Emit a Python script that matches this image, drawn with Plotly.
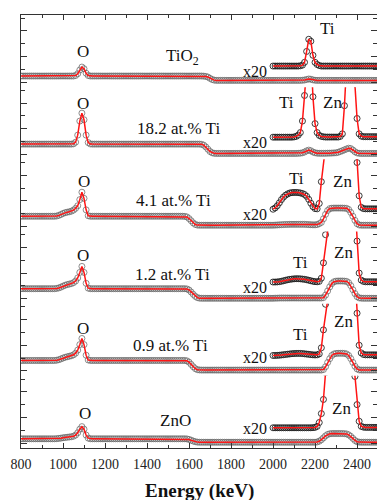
import plotly.graph_objects as go
from plotly.subplots import make_subplots

# ---------------- data ----------------
energy_main = list(range(800, 2501, 10))     # keV, 171 channels
energy_x20 = list(range(2000, 2501, 10))     # keV, 51 channels (x20 magnified part)

sample_names = ["TiO<sub>2</sub>", "18.2 at.% Ti", "4.1 at.% Ti", "1.2 at.% Ti", "0.9 at.% Ti", "ZnO"]

tio2_main = [
    0.48, 0.48, 0.48, 0.48, 0.48, 0.48, 0.48, 0.48, 0.48, 0.48, 0.48, 0.48, 0.48, 0.48, 0.48, 0.48,
    0.48, 0.48, 0.48, 0.48, 0.48, 0.48, 0.48, 0.48, 0.48, 0.48, 0.52, 0.66, 0.95, 1.18, 1.05, 0.70, 0.52, 0.48,
    0.48, 0.48, 0.48, 0.48, 0.48, 0.48, 0.48, 0.48, 0.48, 0.48, 0.48,
    0.48, 0.48, 0.48, 0.48, 0.48, 0.48, 0.48, 0.48, 0.48, 0.48, 0.48,
    0.48, 0.48, 0.48, 0.48, 0.48, 0.48, 0.48, 0.48, 0.48, 0.48, 0.48,
    0.48, 0.48, 0.48, 0.48, 0.48, 0.48, 0.48, 0.48, 0.48, 0.48, 0.48,
    0.48, 0.48, 0.48, 0.48, 0.48, 0.48, 0.48, 0.48, 0.48, 0.47, 0.45, 0.40, 0.30, 0.21, 0.16, 0.14,
    0.14, 0.14, 0.14, 0.14, 0.14, 0.14, 0.14, 0.14, 0.14, 0.14, 0.14, 0.14,
    0.14, 0.14, 0.14, 0.14, 0.14, 0.14, 0.14, 0.14, 0.14, 0.14, 0.14, 0.14,
    0.14, 0.14, 0.14, 0.14, 0.14, 0.14, 0.14, 0.14, 0.14, 0.14, 0.14, 0.14,
    0.14, 0.14, 0.14, 0.14, 0.15, 0.17, 0.21, 0.25, 0.23, 0.18, 0.15, 0.14,
    0.14, 0.14, 0.14, 0.14, 0.14, 0.14, 0.14, 0.14, 0.14, 0.14, 0.14, 0.14, 0.14, 0.14, 0.14,
    0.14, 0.14, 0.14, 0.14, 0.14, 0.14, 0.14, 0.14, 0.14, 0.14, 0.14, 0.14, 0.14, 0.14,
]

ti182_main = [
    0.80, 0.80, 0.80, 0.80, 0.80, 0.80, 0.80, 0.80, 0.80, 0.80, 0.80, 0.80, 0.80, 0.80, 0.80, 0.80,
    0.80, 0.80, 0.80, 0.80, 0.80, 0.80, 0.80, 0.80, 0.80, 0.82, 0.95, 1.50, 2.60, 3.22, 2.70, 1.50, 0.92, 0.81,
    0.80, 0.80, 0.80, 0.80, 0.80, 0.80, 0.80, 0.80, 0.80, 0.80, 0.80,
    0.80, 0.80, 0.80, 0.80, 0.80, 0.80, 0.80, 0.80, 0.80, 0.80, 0.80,
    0.80, 0.80, 0.80, 0.80, 0.80, 0.80, 0.80, 0.80, 0.80, 0.80, 0.80,
    0.80, 0.80, 0.80, 0.80, 0.80, 0.80, 0.80, 0.80, 0.80, 0.80, 0.80,
    0.80, 0.80, 0.80, 0.80, 0.80, 0.80, 0.80, 0.80, 0.78, 0.72, 0.58, 0.40, 0.22, 0.12, 0.08, 0.07,
    0.07, 0.07, 0.07, 0.07, 0.07, 0.07, 0.07, 0.07, 0.07, 0.07, 0.07, 0.07,
    0.07, 0.07, 0.07, 0.07, 0.07, 0.07, 0.07, 0.07, 0.07, 0.07, 0.07, 0.07,
    0.07, 0.07, 0.07, 0.07, 0.07, 0.07, 0.07, 0.07, 0.07, 0.07, 0.07, 0.07,
    0.07, 0.07, 0.08, 0.09, 0.12, 0.18, 0.27, 0.33, 0.28, 0.18, 0.12, 0.09,
    0.08, 0.08, 0.08, 0.08, 0.09, 0.09, 0.10, 0.11, 0.12, 0.16, 0.22, 0.28,
    0.35, 0.42, 0.48, 0.45, 0.34, 0.20, 0.11, 0.08, 0.07,
    0.07, 0.07, 0.07, 0.07, 0.07, 0.07, 0.07, 0.07,
]

ti41_main = [
    0.80, 0.80, 0.80, 0.80, 0.80, 0.80, 0.80, 0.80, 0.80, 0.80, 0.80, 0.80, 0.80, 0.80, 0.80, 0.80,
    0.80, 0.82, 0.87, 0.94, 1.02, 1.08, 1.12, 1.15, 1.20, 1.28, 1.42, 1.62, 2.10, 2.68, 2.20, 1.30, 0.84, 0.80,
    0.80, 0.80, 0.80, 0.80, 0.80, 0.80, 0.80, 0.80, 0.80, 0.80, 0.80,
    0.80, 0.80, 0.80, 0.80, 0.80, 0.80, 0.80, 0.80, 0.80, 0.80, 0.80,
    0.80, 0.80, 0.80, 0.80, 0.80, 0.80, 0.80, 0.80, 0.80, 0.80, 0.80,
    0.80, 0.80, 0.80, 0.80, 0.80, 0.80, 0.80, 0.80, 0.80, 0.80, 0.80,
    0.79, 0.75, 0.62, 0.45, 0.28, 0.16, 0.11, 0.10, 0.10, 0.10, 0.10, 0.10, 0.10, 0.10, 0.10, 0.10,
    0.10, 0.10, 0.10, 0.10, 0.10, 0.10, 0.10, 0.10, 0.10, 0.10, 0.10, 0.10,
    0.10, 0.10, 0.10, 0.10, 0.10, 0.10, 0.10, 0.10, 0.10, 0.10, 0.10, 0.10,
    0.10, 0.10, 0.10, 0.11, 0.12, 0.13, 0.14, 0.15, 0.16, 0.16, 0.17, 0.17,
    0.17, 0.17, 0.17, 0.17, 0.17, 0.17, 0.16, 0.15, 0.14, 0.13, 0.13, 0.15,
    0.22, 0.32, 0.60, 0.95, 1.25, 1.40, 1.43, 1.44, 1.44, 1.44, 1.44, 1.44,
    1.43, 1.42, 1.33, 1.10, 0.80, 0.48, 0.22, 0.12, 0.10,
    0.10, 0.10, 0.10, 0.10, 0.10, 0.10, 0.10, 0.10,
]

ti12_main = [
    0.78, 0.78, 0.78, 0.78, 0.78, 0.78, 0.78, 0.78, 0.78, 0.78, 0.78, 0.78, 0.78, 0.78, 0.78, 0.78,
    0.78, 0.80, 0.84, 0.90, 0.98, 1.05, 1.10, 1.14, 1.18, 1.25, 1.38, 1.62, 2.05, 2.52, 2.05, 1.20, 0.82, 0.78,
    0.78, 0.78, 0.78, 0.78, 0.78, 0.78, 0.78, 0.78, 0.78, 0.78, 0.78,
    0.78, 0.78, 0.78, 0.78, 0.78, 0.78, 0.78, 0.78, 0.78, 0.78, 0.78,
    0.78, 0.78, 0.78, 0.78, 0.78, 0.78, 0.78, 0.78, 0.78, 0.78, 0.78,
    0.78, 0.78, 0.78, 0.78, 0.78, 0.78, 0.78, 0.78, 0.78, 0.78, 0.78,
    0.78, 0.76, 0.68, 0.52, 0.34, 0.18, 0.08, 0.04, 0.03, 0.03, 0.03, 0.03, 0.03, 0.03, 0.03, 0.03,
    0.03, 0.03, 0.03, 0.03, 0.03, 0.03, 0.03, 0.03, 0.03, 0.03, 0.03, 0.03,
    0.03, 0.03, 0.03, 0.03, 0.03, 0.03, 0.03, 0.03, 0.03, 0.03, 0.03, 0.03,
    0.03, 0.03, 0.03, 0.04, 0.04, 0.05, 0.05, 0.05, 0.05, 0.05, 0.05, 0.05,
    0.05, 0.05, 0.05, 0.05, 0.05, 0.05, 0.05, 0.05, 0.05, 0.05, 0.05, 0.05, 0.05, 0.05,
    0.08, 0.28, 0.60, 0.92, 1.18, 1.32, 1.37, 1.38, 1.38, 1.38, 1.37, 1.35,
    1.25, 1.02, 0.70, 0.40, 0.16, 0.06, 0.04,
    0.03, 0.03, 0.03, 0.03, 0.03, 0.03, 0.03, 0.03,
]

ti09_main = [
    0.81, 0.81, 0.81, 0.81, 0.81, 0.81, 0.81, 0.81, 0.81, 0.81, 0.81, 0.81, 0.81, 0.81, 0.81, 0.81,
    0.81, 0.83, 0.87, 0.93, 1.00, 1.06, 1.10, 1.14, 1.18, 1.25, 1.38, 1.62, 2.05, 2.53, 2.05, 1.22, 0.85, 0.81,
    0.81, 0.81, 0.81, 0.81, 0.81, 0.81, 0.81, 0.81, 0.81, 0.81, 0.81,
    0.81, 0.81, 0.81, 0.81, 0.81, 0.81, 0.81, 0.81, 0.81, 0.81, 0.81,
    0.81, 0.81, 0.81, 0.81, 0.81, 0.81, 0.81, 0.81, 0.81, 0.81, 0.81,
    0.81, 0.81, 0.81, 0.81, 0.81, 0.81, 0.81, 0.81, 0.81, 0.81, 0.81,
    0.81, 0.78, 0.68, 0.50, 0.32, 0.17, 0.09, 0.07, 0.06, 0.06, 0.06, 0.06, 0.06, 0.06, 0.06, 0.06,
    0.06, 0.06, 0.06, 0.06, 0.06, 0.06, 0.06, 0.06, 0.06, 0.06, 0.06, 0.06,
    0.06, 0.06, 0.06, 0.06, 0.06, 0.06, 0.06, 0.06, 0.06, 0.06, 0.06, 0.06,
    0.06, 0.06, 0.06, 0.06, 0.06, 0.06, 0.06, 0.06, 0.06, 0.06, 0.06, 0.06,
    0.06, 0.06, 0.06, 0.06, 0.06, 0.06, 0.06, 0.06, 0.06, 0.06, 0.06, 0.06, 0.06, 0.06,
    0.10, 0.32, 0.65, 0.95, 1.20, 1.32, 1.36, 1.37, 1.37, 1.37, 1.36, 1.32,
    1.20, 0.96, 0.66, 0.36, 0.15, 0.07, 0.06,
    0.06, 0.06, 0.06, 0.06, 0.06, 0.06, 0.06, 0.06,
]

zno_main = [
    0.33, 0.33, 0.33, 0.33, 0.33, 0.33, 0.33, 0.33, 0.33, 0.33, 0.33, 0.33, 0.33, 0.33, 0.33, 0.33,
    0.33, 0.34, 0.36, 0.38, 0.41, 0.43, 0.45, 0.47, 0.49, 0.53, 0.62, 0.80, 1.08, 1.28, 1.08, 0.62, 0.38, 0.33,
    0.33, 0.33, 0.33, 0.33, 0.33, 0.33, 0.33, 0.33, 0.33, 0.33, 0.33,
    0.33, 0.33, 0.33, 0.33, 0.33, 0.33, 0.33, 0.33, 0.33, 0.33, 0.33,
    0.33, 0.33, 0.33, 0.33, 0.33, 0.33, 0.33, 0.33, 0.33, 0.33, 0.33,
    0.33, 0.33, 0.33, 0.33, 0.33, 0.33, 0.33, 0.33, 0.33, 0.33, 0.33,
    0.33, 0.32, 0.28, 0.22, 0.15, 0.10, 0.07, 0.06, 0.06, 0.06, 0.06, 0.06, 0.06, 0.06, 0.06, 0.06,
    0.06, 0.06, 0.06, 0.06, 0.06, 0.06, 0.06, 0.06, 0.06, 0.06, 0.06, 0.06,
    0.06, 0.06, 0.06, 0.06, 0.06, 0.06, 0.06, 0.06, 0.06, 0.06, 0.06, 0.06,
    0.06, 0.06, 0.06, 0.06, 0.06, 0.06, 0.06, 0.06, 0.06, 0.06, 0.06, 0.06,
    0.06, 0.06, 0.06, 0.06, 0.06, 0.06, 0.06, 0.06, 0.06, 0.06, 0.06,
    0.08, 0.14, 0.25, 0.40, 0.56, 0.67, 0.72, 0.74, 0.74, 0.74, 0.74, 0.74,
    0.74, 0.73, 0.71, 0.64, 0.52, 0.36, 0.20, 0.10, 0.07, 0.06,
    0.06, 0.06, 0.06, 0.06, 0.06, 0.06, 0.06, 0.06,
]

# x20 magnified parts (already multiplied and offset as drawn in the figure)
tio2_x20 = [
    1.26, 1.26, 1.26, 1.26, 1.26, 1.26, 1.26, 1.26, 1.26, 1.26, 1.26, 1.26, 1.26,
    1.28, 1.33, 1.55, 2.40, 3.35, 3.20, 2.10, 1.55, 1.38, 1.30,
    1.26, 1.26, 1.26, 1.26, 1.26, 1.26, 1.26, 1.26, 1.26, 1.26, 1.26, 1.26, 1.26, 1.26,
    1.26, 1.26, 1.26, 1.26, 1.26, 1.26, 1.26, 1.26, 1.26, 1.26, 1.26, 1.26, 1.26, 1.26,
]
ti182_x20 = [
    1.34, 1.34, 1.34, 1.34, 1.34, 1.34, 1.34, 1.34, 1.34, 1.34,
    1.36, 1.40, 1.50, 1.70, 2.60, 4.60, 7.00, 9.00, 8.00, 4.50, 2.40, 1.70, 1.48, 1.40, 1.37,
    1.35, 1.35, 1.35, 1.35, 1.35, 1.35, 1.35,
    1.40, 1.60, 3.80, 7.00, 9.00, 9.00, 8.00, 5.50, 2.80, 1.60, 1.42,
    1.38, 1.38, 1.38, 1.38, 1.38, 1.38, 1.38, 1.38,
]
ti41_x20 = [
    1.35, 1.45, 1.62, 1.85, 2.10, 2.30, 2.45, 2.55, 2.62, 2.65, 2.66, 2.66, 2.65,
    2.62, 2.58, 2.50, 2.36, 2.12, 1.82, 1.55, 1.40, 1.38, 1.80, 3.50, 6.50, 9.00,
    9.00, 9.00, 9.00, 9.00, 9.00, 9.00, 9.00, 9.00, 9.00, 9.00, 9.00, 9.00, 9.00,
    8.00, 5.00, 2.40, 1.50, 1.40,
    1.38, 1.38, 1.38, 1.38, 1.38, 1.38, 1.38,
]
ti12_x20 = [
    1.30, 1.30, 1.31, 1.33, 1.36, 1.40, 1.44, 1.48, 1.51, 1.53, 1.55, 1.56, 1.56, 1.55,
    1.53, 1.51, 1.48, 1.44, 1.40, 1.36, 1.33, 1.32, 1.35, 1.60, 2.80, 5.00, 7.50,
    9.00, 9.00, 9.00, 9.00, 9.00, 9.00, 9.00, 9.00, 9.00, 9.00, 9.00, 9.00,
    7.50, 4.50, 2.00, 1.45, 1.35,
    1.32, 1.32, 1.32, 1.32, 1.32, 1.32, 1.32,
]
ti09_x20 = [
    1.20, 1.20, 1.21, 1.22, 1.24, 1.26, 1.28, 1.30, 1.32, 1.34, 1.35, 1.36, 1.36, 1.36,
    1.35, 1.33, 1.31, 1.29, 1.27, 1.25, 1.24, 1.25, 1.32, 1.80, 3.20, 5.20, 7.50,
    9.00, 9.00, 9.00, 9.00, 9.00, 9.00, 9.00, 9.00, 9.00, 9.00, 9.00, 9.00,
    7.50, 4.50, 2.00, 1.40, 1.28,
    1.25, 1.25, 1.25, 1.25, 1.25, 1.25, 1.25,
]
zno_x20 = [
    1.19, 1.19, 1.19, 1.19, 1.19, 1.19, 1.19, 1.19, 1.19, 1.19,
    1.19, 1.19, 1.19, 1.19, 1.19, 1.19, 1.19, 1.19, 1.19,
    1.20, 1.22, 1.30, 1.60, 2.30, 3.40, 5.50, 7.50,
    9.00, 9.00, 9.00, 9.00, 9.00, 9.00, 9.00, 9.00, 9.00, 9.00, 9.00,
    7.00, 5.20, 3.00, 1.70, 1.30, 1.24,
    1.22, 1.22, 1.22, 1.22, 1.22, 1.22, 1.22,
]

main_series = [tio2_main, ti182_main, ti41_main, ti12_main, ti09_main, zno_main]
x20_series = [tio2_x20, ti182_x20, ti41_x20, ti12_x20, ti09_x20, zno_x20]
for k, s in enumerate(main_series):
    assert len(s) == len(energy_main), (k, len(s))
for k, s in enumerate(x20_series):
    assert len(s) == len(energy_x20), (k, len(s))

# text labels per panel: (text, energy, y)
panel_labels = [
    [("O", 1095, 2.43), ("TiO<sub>2</sub>", 1571, 1.95), ("Ti", 2260, 4.23)],
    [("O", 1095, 4.00), ("18.2 at.% Ti", 1552, 2.05), ("Ti", 2062, 4.08), ("Zn", 2281, 4.08)],
    [("O", 1100, 3.54), ("4.1 at.% Ti", 1524, 2.05), ("Ti", 2114, 3.77), ("Zn", 2329, 3.54)],
    [("O", 1095, 3.34), ("1.2 at.% Ti", 1521, 1.90), ("Ti", 2129, 2.80), ("Zn", 2336, 3.62)],
    [("O", 1095, 3.27), ("0.9 at.% Ti", 1514, 1.98), ("Ti", 2129, 2.84), ("Zn", 2336, 3.86)],
    [("O", 1105, 2.30), ("ZnO", 1536, 1.76), ("Zn", 2324, 2.66)],
]
x20_label_y = [0.87, 0.91, 0.92, 0.84, 1.01, 1.13]

# ---------------- figure ----------------
n = len(main_series)
fig = make_subplots(rows=n, cols=1, shared_xaxes=True, vertical_spacing=0)

FONT = "Liberation Serif"
AX = "#333333"
RED = "#ff1414"

for i in range(n):
    r = i + 1
    fig.add_trace(go.Scatter(x=energy_main, y=main_series[i], mode="markers",
                             marker=dict(symbol="circle-open", size=6,
                                         color="rgba(95,95,95,0.7)", line=dict(width=1)),
                             showlegend=False, hoverinfo="skip"), row=r, col=1)
    fig.add_trace(go.Scatter(x=energy_main, y=main_series[i], mode="lines",
                             line=dict(color=RED, width=1.5),
                             showlegend=False, hoverinfo="skip"), row=r, col=1)
    fig.add_trace(go.Scatter(x=energy_x20, y=x20_series[i], mode="markers",
                             marker=dict(symbol="circle-open", size=6,
                                         color="rgba(25,25,25,0.85)", line=dict(width=1)),
                             showlegend=False, hoverinfo="skip"), row=r, col=1)
    fig.add_trace(go.Scatter(x=energy_x20, y=x20_series[i], mode="lines",
                             line=dict(color=RED, width=1.5),
                             showlegend=False, hoverinfo="skip"), row=r, col=1)

    fig.update_yaxes(row=r, col=1, range=[-0.39, 5.248], showline=True, linecolor=AX,
                     linewidth=1.3, mirror="ticks", ticks="inside", tickvals=[0, 2, 4],
                     ticklen=6, tickwidth=1.2, tickcolor=AX,
                     minor=dict(tickvals=[1, 3, 5], ticks="inside", ticklen=4,
                                tickwidth=1.2, tickcolor=AX),
                     showticklabels=False, showgrid=False, zeroline=False)

    xref = "x" if r == 1 else f"x{r}"
    yref = "y" if r == 1 else f"y{r}"
    for text, ex, ey in panel_labels[i]:
        fig.add_annotation(x=ex, y=ey, xref=xref, yref=yref, text=text, showarrow=False,
                           font=dict(family=FONT, size=17, color="#111"),
                           xanchor="center", yanchor="middle")
    fig.add_annotation(x=1983, y=x20_label_y[i], xref=xref, yref=yref, text="x20",
                       showarrow=False, font=dict(family=FONT, size=16, color="#111"),
                       xanchor="right", yanchor="middle")

# x axes: top frame (row 1), hidden in between, labelled bottom (last row)
for r in range(1, n + 1):
    fig.update_xaxes(row=r, col=1, range=[800, 2495], showgrid=False, zeroline=False,
                     showline=False, ticks="", showticklabels=False)
fig.update_xaxes(row=1, col=1, side="top", showline=True, linecolor=AX, linewidth=1.3,
                 ticks="inside", tick0=800, dtick=200, ticklen=5, tickwidth=1.2, tickcolor=AX,
                 minor=dict(dtick=100, ticks="inside", ticklen=3, tickwidth=1.2, tickcolor=AX))
fig.update_xaxes(row=n, col=1, showline=True, linecolor=AX, linewidth=1.3,
                 ticks="inside", tick0=800, dtick=200, ticklen=5, tickwidth=1.2, tickcolor=AX,
                 minor=dict(dtick=100, ticks="inside", ticklen=3, tickwidth=1.2, tickcolor=AX),
                 showticklabels=True, tickfont=dict(family=FONT, size=14, color="#222"),
                 ticklabelstandoff=3)

fig.add_annotation(x=0.5, y=-0.099, xref="paper", yref="paper", text="<b>Energy (keV)</b>",
                   showarrow=False, font=dict(family=FONT, size=19, color="#111"),
                   xanchor="center", yanchor="middle")

fig.update_layout(width=377, height=500, margin=dict(l=21, r=0, t=15, b=52),
                  paper_bgcolor="white", plot_bgcolor="white", showlegend=False)

fig.write_html("out.html")
